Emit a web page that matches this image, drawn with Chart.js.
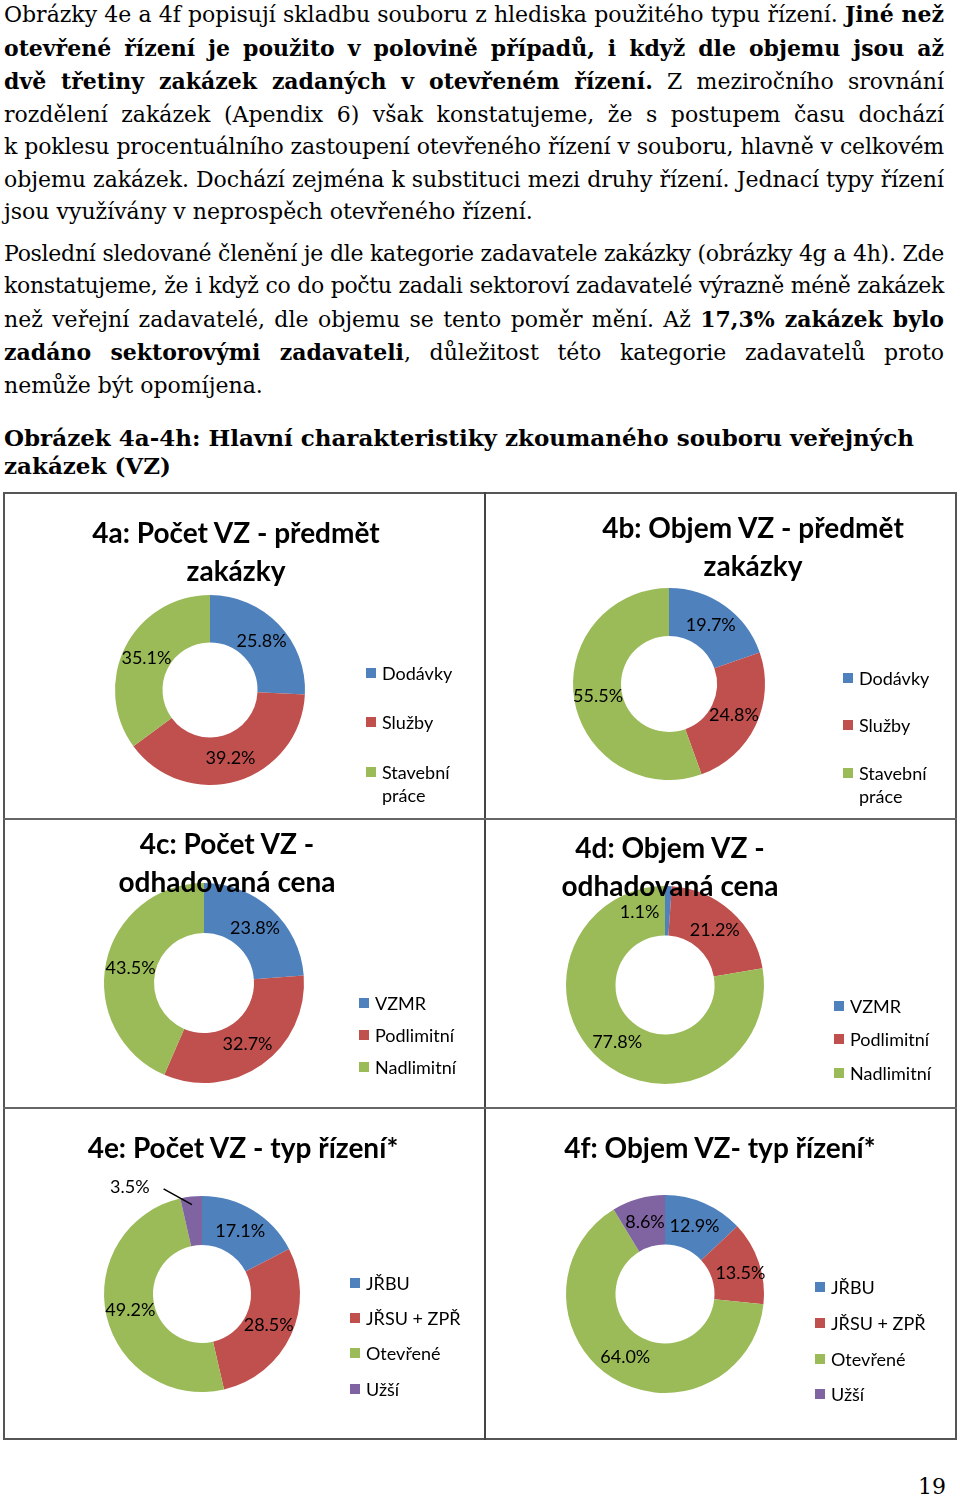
<!DOCTYPE html>
<html lang="cs">
<head>
<meta charset="UTF-8" />
<title>Obrázek 4a-4h</title>
<script src="https://cdn.jsdelivr.net/npm/chart.js@4"></script>
<style>
  body { margin: 0; background: #fff; }
  .page { position: relative; width: 960px; height: 1502px; overflow: hidden; color: #000;
          font-family: "DejaVu Serif", "Liberation Serif", serif; }
  .text { position: absolute; left: 4px; width: 940px; font-size: 22px; line-height: 32.5px; }
  .text div { text-align: justify; text-align-last: justify; }
  .text div.last { text-align-last: left; }
  .caption { position: absolute; left: 4px; top: 424px; width: 950px; font-size: 23px;
             line-height: 28px; font-weight: bold; }
  .frame { position: absolute; border: 2px solid #555; box-sizing: border-box; }
  .vline { position: absolute; background: #444; width: 2px; }
  .hline { position: absolute; background: #666; height: 2px; }
  canvas.cell { position: absolute; }
  .title { position: absolute; width: 440px; text-align: center; font-family: Lato, sans-serif;
           font-weight: bold; font-size: 28px; line-height: 38px; white-space: nowrap; }
  .legend { position: absolute; font-family: Lato, sans-serif; font-size: 18px; line-height: 24px; }
  .legend span.box { position: absolute; width: 10px; height: 10px; }
  .legend span.lbl { position: absolute; white-space: nowrap; }
  .pagenum { position: absolute; left: 910px; top: 1474px; width: 44px; text-align: center;
             font-size: 22px; }
</style>
</head>
<body>
<div class="page" id="page">
  <div class="text" style="top:-2px">
    <div>Obrázky 4e a 4f popisují skladbu souboru z hlediska použitého typu řízení. <b>Jiné než</b></div>
    <div><b>otevřené řízení je použito v polovině případů, i když dle objemu jsou až</b></div>
    <div><b>dvě třetiny zakázek zadaných v&nbsp;otevřeném řízení.</b> Z meziročního srovnání</div>
    <div>rozdělení zakázek (Apendix 6) však konstatujeme, že s&nbsp;postupem času dochází</div>
    <div>k poklesu procentuálního zastoupení otevřeného řízení v souboru, hlavně v celkovém</div>
    <div>objemu zakázek. Dochází zejména k substituci mezi druhy řízení. Jednací typy řízení</div>
    <div class="last">jsou využívány v neprospěch otevřeného řízení.</div>
  </div>
  <div class="text" style="top:237.5px">
    <div>Poslední sledované členění je dle kategorie zadavatele zakázky (obrázky 4g a 4h). Zde</div>
    <div>konstatujeme, že i když co do počtu zadali sektoroví zadavatelé výrazně méně zakázek</div>
    <div>než veřejní zadavatelé, dle objemu se tento poměr mění. Až <b>17,3% zakázek bylo</b></div>
    <div><b>zadáno sektorovými zadavateli</b>, důležitost této kategorie zadavatelů proto</div>
    <div class="last">nemůže být opomíjena.</div>
  </div>
  <div class="caption">Obrázek 4a-4h: Hlavní charakteristiky zkoumaného souboru veřejných<br>zakázek (VZ)</div>
  <div class="pagenum">19</div>
</div>

<script>
  // values (percent)
  const subjectLabels = ["Dodávky", "Služby", "Stavební práce"];
  const countBySubject = [25.8, 39.2, 35.1];
  const volumeBySubject = [19.7, 24.8, 55.5];

  const priceLabels = ["VZMR", "Podlimitní", "Nadlimitní"];
  const countByPrice = [23.8, 32.7, 43.5];
  const volumeByPrice = [1.1, 21.2, 77.8];

  const procedureLabels = ["JŘBU", "JŘSU + ZPŘ", "Otevřené", "Užší"];
  const countByProcedure = [17.1, 28.5, 49.2, 3.5];
  const volumeByProcedure = [12.9, 13.5, 64.0, 8.6];

  const colors = ["#4F81BD", "#C0504D", "#9BBB59", "#8064A2"];

  const page = document.getElementById("page");

  // squeeze any text line that would not fit on one row
  document.querySelectorAll(".text div").forEach((line) => {
    line.style.whiteSpace = "nowrap";
    const natural = line.scrollWidth;
    if (natural > 940) {
      const n = line.textContent.length;
      line.style.letterSpacing = (940 - natural - 2) / n + "px";
    }
    line.style.whiteSpace = "";
  });

  function addEl(cls, style, html) {
    const el = document.createElement("div");
    el.className = cls;
    Object.assign(el.style, style);
    if (html) el.innerHTML = html;
    page.appendChild(el);
    return el;
  }

  // percent labels in the middle of each ring slice
  const sliceLabels = {
    id: "sliceLabels",
    afterDatasetsDraw(chart, args, opts) {
      const ctx = chart.ctx;
      const meta = chart.getDatasetMeta(0);
      const values = chart.data.datasets[0].data;
      ctx.save();
      ctx.font = "18px Lato";
      ctx.fillStyle = "#000";
      ctx.textAlign = "center";
      ctx.textBaseline = "middle";
      meta.data.forEach((arc, i) => {
        const p = arc.getCenterPoint();
        const s = (opts.shift && opts.shift[i]) || [0, 0];
        const x = p.x + s[0];
        const y = p.y + s[1];
        const txt = values[i].toFixed(1) + "%";
        ctx.fillText(txt, x, y);
        if (opts.leader === i) {
          const a = (arc.startAngle + arc.endAngle) / 2;
          const r = arc.outerRadius - 8;
          ctx.strokeStyle = "#000";
          ctx.lineWidth = 1.5;
          ctx.beginPath();
          ctx.moveTo(x + ctx.measureText(txt).width / 2 + 14, y + 2);
          ctx.lineTo(arc.x + Math.cos(a) * r, arc.y + Math.sin(a) * r);
          ctx.stroke();
        }
      });
      ctx.restore();
    },
  };

  const charts = [
    {
      cell: [4, 493, 481, 326], cx: 210, cy: 690, r: 95,
      labels: subjectLabels, values: countBySubject,
      title: ["4a: Počet VZ - předmět", "zakázky"], titleX: 236, titleY: 532,
      legendX: 366, legendY: [673, 722, 772], labelOpts: {},
    },
    {
      cell: [485, 493, 471, 326], cx: 669, cy: 684, r: 96,
      labels: subjectLabels, values: volumeBySubject,
      title: ["4b: Objem VZ - předmět", "zakázky"], titleX: 753, titleY: 527,
      legendX: 843, legendY: [678, 725, 773], labelOpts: {},
    },
    {
      cell: [4, 819, 481, 289], cx: 204, cy: 983, r: 100,
      labels: priceLabels, values: countByPrice,
      title: ["4c: Počet VZ -", "odhadovaná cena"], titleX: 227, titleY: 843,
      legendX: 359, legendY: [1003, 1035, 1067], labelOpts: {},
    },
    {
      cell: [485, 819, 471, 289], cx: 665, cy: 985, r: 99,
      labels: priceLabels, values: volumeByPrice,
      title: ["4d: Objem VZ -", "odhadovaná cena"], titleX: 670, titleY: 847,
      legendX: 834, legendY: [1006, 1039, 1073], labelOpts: { shift: [[-28, 1]] },
    },
    {
      cell: [4, 1108, 481, 331], cx: 202, cy: 1294, r: 98,
      labels: procedureLabels, values: countByProcedure,
      title: ["4e: Počet VZ - typ řízení*"], titleX: 243, titleY: 1147,
      legendX: 350, legendY: [1283, 1318, 1353, 1389],
      labelOpts: { shift: [null, null, null, [-64, -34]], leader: 3 },
    },
    {
      cell: [485, 1108, 471, 331], cx: 665, cy: 1294, r: 99,
      labels: procedureLabels, values: volumeByProcedure,
      title: ["4f: Objem VZ- typ řízení*"], titleX: 720, titleY: 1147,
      legendX: 815, legendY: [1287, 1323, 1359, 1394],
      labelOpts: { shift: [null, [5, 3]] },
    },
  ];

  charts.forEach((c) => {
    const [x, y, w, h] = c.cell;
    const canvas = document.createElement("canvas");
    canvas.className = "cell";
    canvas.width = w;
    canvas.height = h;
    canvas.style.left = x + "px";
    canvas.style.top = y + "px";
    page.appendChild(canvas);

    const rx = c.cx - x;
    const ry = c.cy - y;
    new Chart(canvas.getContext("2d"), {
      type: "doughnut",
      data: {
        labels: c.labels,
        datasets: [{
          data: c.values,
          backgroundColor: colors.slice(0, c.values.length),
          borderWidth: 0,
          hoverOffset: 0,
        }],
      },
      options: {
        responsive: false,
        animation: false,
        radius: c.r,
        cutout: "50%",
        layout: { padding: { left: rx - c.r, right: w - rx - c.r, top: ry - c.r, bottom: h - ry - c.r } },
        plugins: {
          legend: { display: false },
          tooltip: { enabled: false },
          sliceLabels: c.labelOpts,
        },
      },
      plugins: [sliceLabels],
    });

    // title sits on top of the ring
    c.title.forEach((t, i) => {
      addEl("title", { left: c.titleX - 220 + "px", top: c.titleY - 19 + i * 38 + "px" }, t);
    });

    // legend
    const leg = addEl("legend", { left: c.legendX + "px", top: "0px" });
    c.labels.forEach((lab, i) => {
      const cy = c.legendY[i];
      const box = document.createElement("span");
      box.className = "box";
      box.style.left = "0px";
      box.style.top = cy - 5 + "px";
      box.style.background = colors[i];
      leg.appendChild(box);
      const words = lab === "Stavební práce" ? ["Stavební", "práce"] : [lab];
      words.forEach((wd, k) => {
        const s = document.createElement("span");
        s.className = "lbl";
        s.style.left = "16px";
        s.style.top = cy - 12 + k * 23 + "px";
        s.textContent = wd;
        leg.appendChild(s);
      });
    });
  });

  // grid lines
  addEl("frame", { left: "3px", top: "492px", width: "954px", height: "948px" });
  addEl("vline", { left: "484px", top: "492px", height: "948px" });
  addEl("hline", { left: "3px", top: "818px", width: "954px" });
  addEl("hline", { left: "3px", top: "1107px", width: "954px" });
</script>
</body>
</html>
